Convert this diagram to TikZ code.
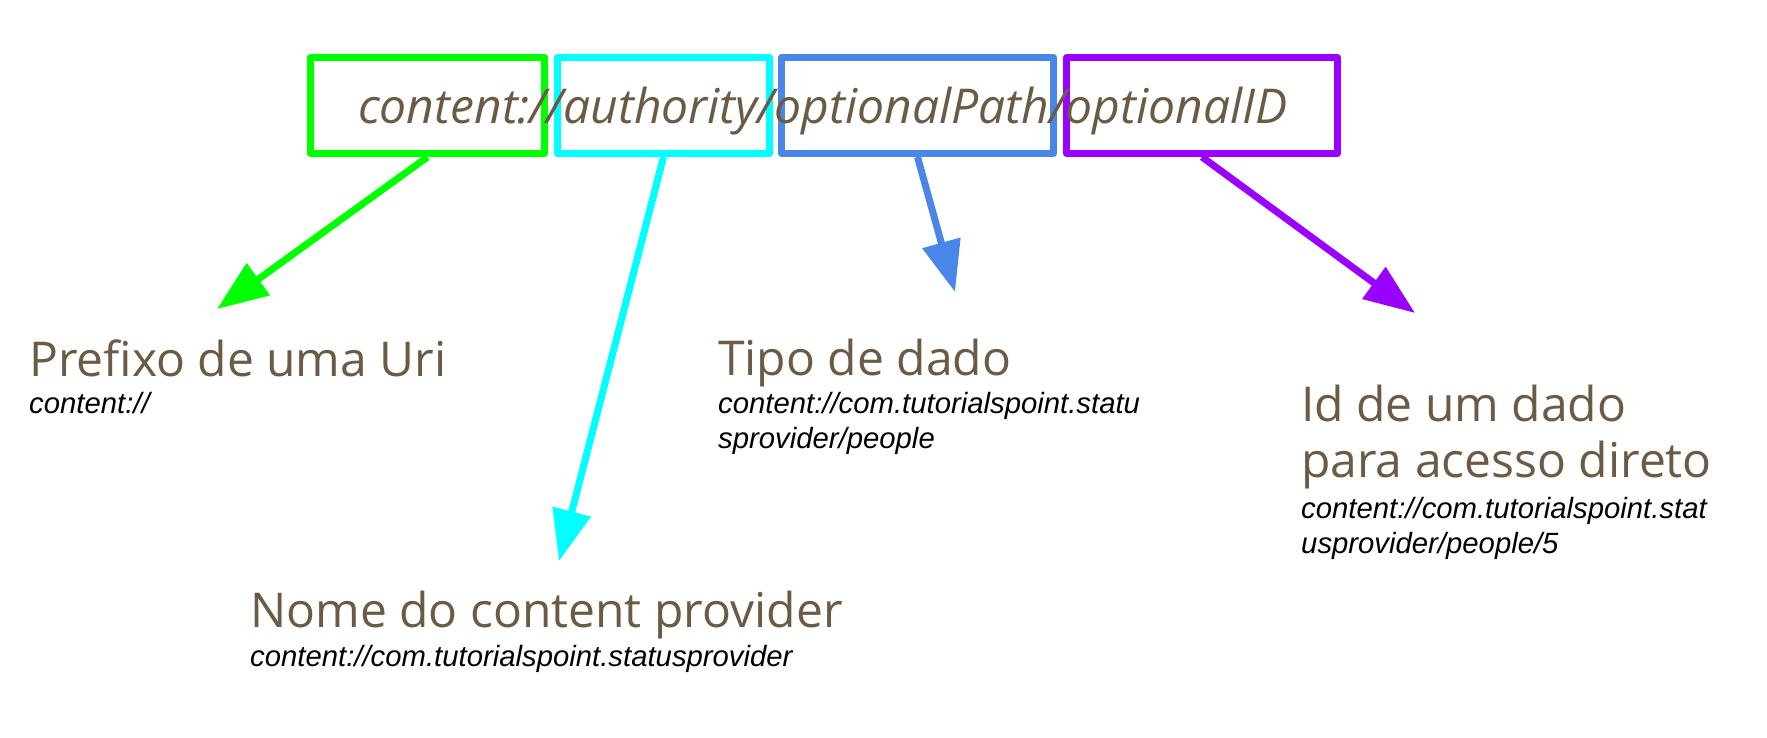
\documentclass[tikz,border=0pt]{standalone}
\usepackage{fontspec}
\usepackage{tikz}
\usetikzlibrary{arrows.meta}
\newfontfamily\opensans{Open Sans}
\newfontfamily\libsans{Liberation Sans}
\definecolor{uribrown}{HTML}{6B5B45}
\definecolor{seggreen}{HTML}{00FF00}
\definecolor{segcyan}{HTML}{00FFFF}
\definecolor{segblue}{HTML}{4A86E8}
\definecolor{segpurple}{HTML}{9900FF}
\tikzset{
  segbox/.style={draw=#1,line width=7pt,line join=round,inner sep=0pt,minimum height=96pt},
  segarrow/.style={draw=#1,line width=7pt,-{Triangle[length=51pt,width=38pt]}},
  titletext/.style={anchor=base west,inner sep=0pt,text=uribrown,font=\opensans\fontsize{48}{56}\selectfont,align=left},
  subtext/.style={anchor=base west,inner sep=0pt,font=\libsans\itshape\fontsize{29.3}{35}\selectfont,align=left},
}

\begin{document}
\begin{tikzpicture}[x=1pt,y=-1pt]
\useasboundingbox (0,0) rectangle (1767,737);
% the four parts of the uri
\foreach \nm/\cx/\w/\col in {pre/427.5/234/seggreen,auth/663.5/212/segcyan,path/917.5/272/segblue,id/1202/271/segpurple}{
  \node[segbox=\col,minimum width=\w pt] (\nm) at (\cx,105.5) {};}
\node[anchor=base west,inner sep=0pt,text=uribrown,font=\opensans\itshape\fontsize{48}{56}\selectfont] (uri) at (358,123) {content://authority/optionalPath/optionalID};
% arrow ends
\coordinate (preTip) at (217,309);
\coordinate (authTip) at (559,561);
\coordinate (pathTip) at (955,292);
\coordinate (idTip) at (1415,313);
\draw[segarrow=seggreen] (pre.south) -- (preTip);
\draw[segarrow=segcyan] (auth.south) -- (authTip);
\draw[segarrow=segblue] (path.south) -- (pathTip);
\draw[segarrow=segpurple] (id.south) -- (idTip);
% labels (base = last line)
\node[titletext] (preT) at (29,376) {Prefixo de uma Uri};
\node[subtext] (preS) at (29,413) {content://};
\node[titletext] (authT) at (250,627) {Nome do content provider};
\node[subtext] (authS) at (250,666) {content://com.tutorialspoint.statusprovider};
\node[titletext] (pathT) at (718,375) {Tipo de dado};
\node[subtext] (pathS) at (718,448) {content://com.tutorialspoint.statu\\sprovider/people};
\node[titletext] (idT) at (1301,477) {Id de um dado\\para acesso direto};
\node[subtext] (idS) at (1301,553) {content://com.tutorialspoint.stat\\usprovider/people/5};
\end{tikzpicture}
\end{document}
